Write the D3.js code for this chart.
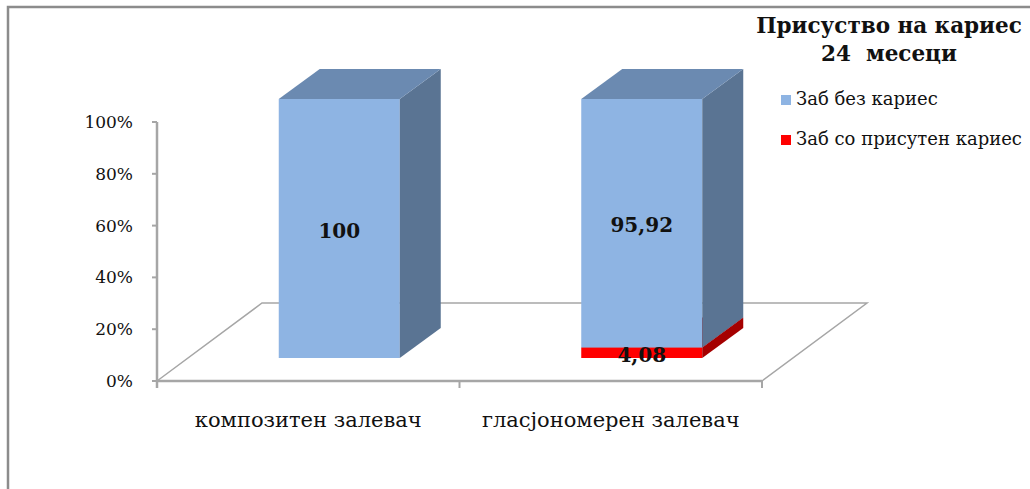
<!DOCTYPE html>
<html>
<head>
<meta charset="utf-8">
<script src="https://cdn.jsdelivr.net/npm/d3@7"></script>
<style>
  html, body { margin: 0; padding: 0; background: #fff; }
  svg { display: block; }
  text { font-family: "DejaVu Serif", "Liberation Serif", serif; fill: #111; white-space: pre; }
</style>
</head>
<body>
<svg id="chart" width="1030" height="489"></svg>
<script>
// Categories (x axis)
const categories = ["композитен залевач", "гласјономерен залевач"];
// Series, stacked from the bottom up
const seriesNames = ["Заб со присутен кариес", "Заб без кариес"];
const cariesValues = [0, 4.08];
const noCariesValues = [100, 95.92];
// Value labels as printed on the bars
const cariesLabels = ["", "4,08"];
const noCariesLabels = ["100", "95,92"];
// Y-axis ticks
const yTicks = [0, 20, 40, 60, 80, 100];
const titleLines = ["Присуство на кариес", "24  месеци"];
const legendItems = ["Заб без кариес", "Заб со присутен кариес"];

const svg = d3.select("#chart");

// Colours of the 3D faces
const faces = {
  "Заб без кариес": { front: "#8eb4e3", side: "#5a7493", top: "#6b8ab1" },
  "Заб со присутен кариес": { front: "#ff0000", side: "#a50000", top: "#c00000" }
};

// Scales
const x = d3.scaleBand().domain(categories).range([157, 762]).paddingInner(0.6).paddingOuter(0.3);
const y = d3.scaleLinear().domain([0, 100]).range([381, 122]);

// Depth offsets: floor depth, front of bars, bar thickness
const floorD = { dx: 105, dy: -78 };
const barOff = { dx: 31, dy: -23 };
const barD = { dx: 41, dy: -30 };

// Outer frame (left and top edges)
svg.append("path")
  .attr("d", "M8,489 L8,7 L1030,7")
  .attr("fill", "none").attr("stroke", "#8c8c8c").attr("stroke-width", 2.5);

// Floor outline
const x0 = x.range()[0], x1 = x.range()[1], yb = y(0);
const gridColor = "#a6a6a6";
svg.append("path")
  .attr("d", `M${x0},${yb} L${x0 + floorD.dx},${yb + floorD.dy} L${x1 + floorD.dx},${yb + floorD.dy} L${x1},${yb}`)
  .attr("fill", "none").attr("stroke", gridColor).attr("stroke-width", 1.5);
svg.append("line")
  .attr("x1", x0).attr("x2", x1).attr("y1", yb).attr("y2", yb)
  .attr("stroke", gridColor).attr("stroke-width", 2.5);

// Category ticks under the floor edge
const catEdges = [x0, ...categories.map(c => x(c) + x.bandwidth() / 2 + x.step() / 2)];
svg.selectAll(".ctick").data(catEdges).join("line")
  .attr("x1", d => d).attr("x2", d => d).attr("y1", yb).attr("y2", yb + 7)
  .attr("stroke", gridColor).attr("stroke-width", 2);

// Y axis
svg.append("line")
  .attr("x1", x0).attr("x2", x0).attr("y1", y(100)).attr("y2", yb + 7)
  .attr("stroke", gridColor).attr("stroke-width", 2.5);
svg.selectAll(".ytick").data(yTicks).join("line")
  .attr("x1", x0 - 5).attr("x2", x0).attr("y1", d => y(d)).attr("y2", d => y(d))
  .attr("stroke", gridColor).attr("stroke-width", 2);
svg.selectAll(".ylab").data(yTicks).join("text")
  .attr("x", 133).attr("y", d => y(d)).attr("dy", "0.35em")
  .attr("text-anchor", "end").attr("font-size", 17)
  .text(d => d + "%");

// Stacked 3D bars
const rows = categories.map((c, i) => ({
  cat: c,
  "Заб со присутен кариес": cariesValues[i],
  "Заб без кариес": noCariesValues[i]
}));
const stack = d3.stack().keys(seriesNames)(rows);

const bw = x.bandwidth();
stack.forEach(layer => {
  const f = faces[layer.key];
  layer.forEach((seg, i) => {
    const v0 = seg[0], v1 = seg[1];
    if (v1 - v0 <= 0) return;
    const left = x(categories[i]) + barOff.dx;
    const right = left + bw;
    const top = y(v1) + barOff.dy;
    const bot = y(v0) + barOff.dy;
    const g = svg.append("g");
    g.append("rect").attr("x", left).attr("y", top).attr("width", bw).attr("height", bot - top)
      .attr("fill", f.front);
    g.append("path")
      .attr("d", `M${right},${bot} L${right},${top} L${right + barD.dx},${top + barD.dy} L${right + barD.dx},${bot + barD.dy} Z`)
      .attr("fill", f.side);
    g.append("path")
      .attr("d", `M${left},${top} L${left + barD.dx},${top + barD.dy} L${right + barD.dx},${top + barD.dy} L${right},${top} Z`)
      .attr("fill", f.top);
  });
});

// Value labels at the middle of each segment
stack.forEach(layer => {
  const labels = layer.key === "Заб без кариес" ? noCariesLabels : cariesLabels;
  layer.forEach((seg, i) => {
    if (!labels[i]) return;
    const cx = x(categories[i]) + barOff.dx + bw / 2;
    const cy = (y(seg[0]) + y(seg[1])) / 2 + barOff.dy;
    svg.append("text")
      .attr("x", cx).attr("y", cy + 2).attr("dy", "0.35em")
      .attr("text-anchor", "middle").attr("font-size", 20).attr("font-weight", "bold")
      .text(labels[i]);
  });
});

// Category labels
svg.selectAll(".clab").data(categories).join("text")
  .attr("x", d => x(d) + bw / 2).attr("y", 427)
  .attr("text-anchor", "middle").attr("font-size", 21)
  .text(d => d);

// Title
svg.selectAll(".title").data(titleLines).join("text")
  .attr("x", 889).attr("y", (d, i) => 33 + i * 28)
  .attr("text-anchor", "middle").attr("font-size", 21.5).attr("font-weight", "bold")
  .text(d => d);

// Legend
const legendColor = { "Заб без кариес": faces["Заб без кариес"].front, "Заб со присутен кариес": "#ff0000" };
const lg = svg.selectAll(".leg").data(legendItems).join("g")
  .attr("transform", (d, i) => `translate(781,${95 + i * 40})`);
lg.append("rect").attr("width", 10).attr("height", 10).attr("fill", d => legendColor[d]);
lg.append("text").attr("x", 15).attr("y", 10).attr("font-size", 18).text(d => d);
</script>
</body>
</html>
